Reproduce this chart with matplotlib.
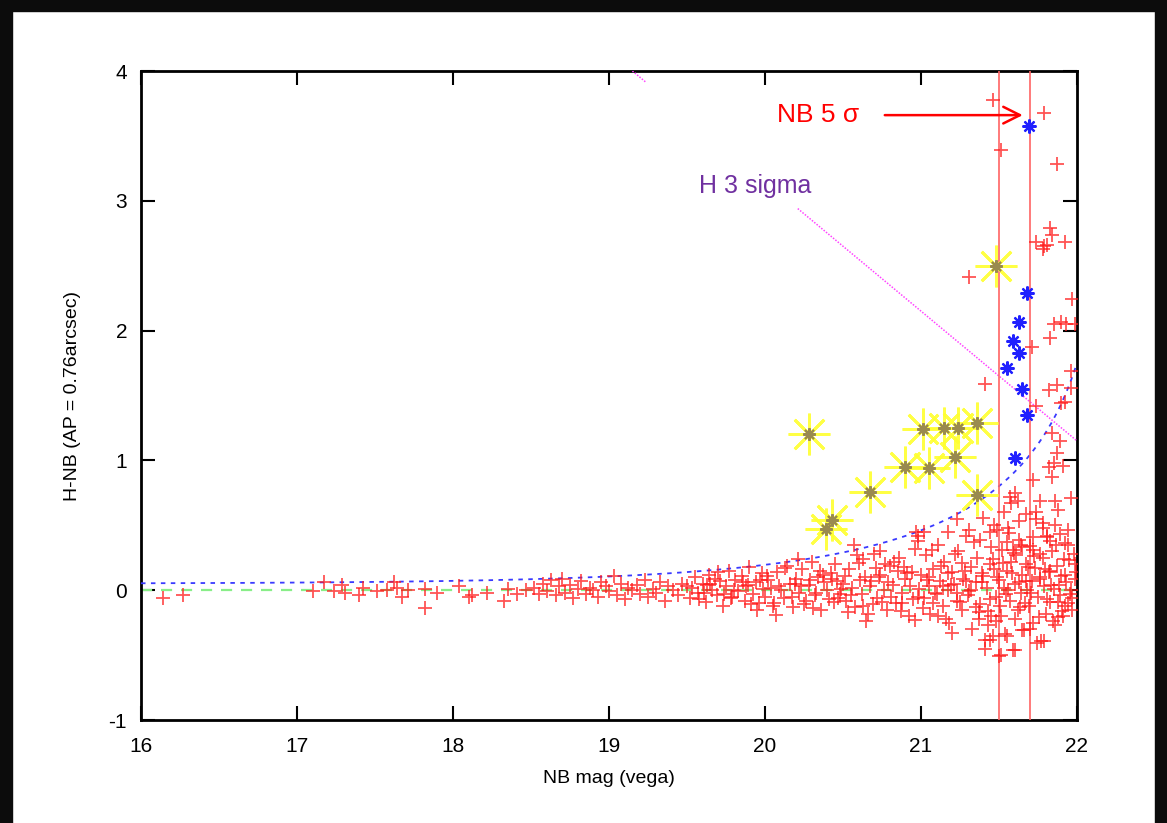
import numpy as np
import matplotlib
matplotlib.use("Agg")
import matplotlib.pyplot as plt
from matplotlib.patches import Rectangle

plt.rcParams['font.family'] = ['Liberation Sans', 'DejaVu Sans']
plt.rcParams['axes.unicode_minus'] = False

# ---------------- data ----------------
# bright / faint field objects (red +)
red_x = [
    16.14, 16.27, 17.10, 17.17, 17.24, 17.29, 17.31, 17.40, 17.42, 17.51, 17.58, 17.62, 17.64, 17.67, 17.71,
    17.82, 17.82, 17.90, 18.04, 18.10, 18.12, 18.22, 18.33, 18.35, 18.41, 18.47,
    18.52, 18.55, 18.58, 18.60, 18.63, 18.66, 18.68, 18.70, 18.72, 18.75, 18.77, 18.80, 18.82, 18.85, 18.88,
    18.90, 18.93, 18.95, 18.98, 19.00, 19.03, 19.05, 19.08, 19.10, 19.12, 19.15, 19.18, 19.20, 19.23, 19.25,
    19.28, 19.30, 19.33, 19.36, 19.38, 19.41, 19.44, 19.47,
    19.50, 19.52, 19.55, 19.57, 19.60, 19.62, 19.64, 19.66, 19.69, 19.71, 19.73, 19.75, 19.77, 19.79, 19.81,
    19.83, 19.85, 19.87, 19.89, 19.90, 19.92, 19.94, 19.96, 19.98, 19.99, 19.53, 19.58, 19.63, 19.68, 19.74,
    19.80, 19.86, 19.91, 19.97, 19.61, 19.70, 19.78, 19.88, 19.95, 19.65,
    20.00, 20.02, 20.04, 20.06, 20.08, 20.10, 20.12, 20.14, 20.16, 20.18, 20.20, 20.22, 20.24, 20.26, 20.28,
    20.30, 20.32, 20.34, 20.36, 20.38, 20.40, 20.42, 20.44, 20.46, 20.48, 20.01, 20.05, 20.09, 20.13, 20.17,
    20.21, 20.25, 20.29, 20.33, 20.37, 20.41, 20.45, 20.49, 20.07, 20.19, 20.31, 20.43, 20.23, 20.35, 20.47,
    20.50, 20.52, 20.54, 20.56, 20.58, 20.60, 20.62, 20.64, 20.66, 20.68, 20.70, 20.72, 20.74, 20.76, 20.78,
    20.80, 20.82, 20.84, 20.86, 20.88, 20.90, 20.92, 20.94, 20.96, 20.98, 20.51, 20.55, 20.59, 20.63, 20.67,
    20.71, 20.75, 20.79, 20.83, 20.87, 20.91, 20.95, 20.99, 20.53, 20.61, 20.69, 20.77, 20.85, 20.93, 20.57,
    20.65, 20.73, 20.81, 20.89, 20.97, 20.96, 20.98, 20.74, 20.88, 20.63,
    21.00, 21.02, 21.03, 21.05, 21.06, 21.08, 21.09, 21.11, 21.12, 21.14, 21.15, 21.17, 21.18, 21.20, 21.21,
    21.23, 21.24, 21.26, 21.27, 21.29, 21.30, 21.32, 21.33, 21.35, 21.36, 21.38, 21.39, 21.41, 21.42, 21.44,
    21.45, 21.47, 21.48, 21.49, 21.01, 21.04, 21.07, 21.10, 21.13, 21.16, 21.19, 21.22, 21.25, 21.28, 21.31,
    21.34, 21.37, 21.40, 21.43, 21.46, 21.02, 21.08, 21.14, 21.20, 21.26, 21.32, 21.38, 21.44, 21.47, 21.35,
    21.29, 21.23, 21.17, 21.11, 21.05, 21.41, 21.45, 21.48, 21.39, 21.43,
    21.50, 21.51, 21.52, 21.53, 21.54, 21.55, 21.56, 21.57, 21.58, 21.59, 21.60, 21.61, 21.62, 21.63, 21.64,
    21.65, 21.66, 21.67, 21.68, 21.69, 21.70, 21.71, 21.72, 21.73, 21.74, 21.75, 21.76, 21.77, 21.78, 21.79,
    21.80, 21.81, 21.82, 21.83, 21.84, 21.85, 21.86, 21.87, 21.88, 21.89, 21.90, 21.91, 21.92, 21.93, 21.94,
    21.95, 21.96, 21.97, 21.98, 21.99,
    21.505, 21.525, 21.545, 21.565, 21.585, 21.605, 21.625, 21.645, 21.665, 21.685, 21.705, 21.725, 21.745,
    21.765, 21.785, 21.805, 21.825, 21.845, 21.865, 21.885, 21.905, 21.925, 21.945, 21.965, 21.985, 21.515,
    21.555, 21.595, 21.635, 21.675, 21.715, 21.755, 21.795, 21.835, 21.875, 21.915, 21.955, 21.995,
    # faint, scattered outliers
    21.44, 21.46, 21.50, 21.55, 21.60, 21.79, 21.65, 21.70, 21.37, 21.88, 21.92,
    21.17, 21.31, 21.40, 21.44, 21.49, 21.86, 21.78, 21.89, 21.81, 21.55, 21.64, 21.94, 21.83, 21.59, 21.72,
    21.76, 21.23, 20.98, 21.53, 21.67, 21.74, 21.63, 21.60, 21.57, 21.58, 21.62, 21.76, 21.86, 21.96,
    21.84, 21.72, 21.82, 21.85, 21.91, 21.87, 21.89, 21.84, 21.74, 21.90, 21.92, 21.82, 21.87, 21.41,
    21.96, 21.71, 21.83, 21.85, 21.90, 21.93, 21.99, 21.96, 21.97, 21.31, 21.92, 21.78, 21.74, 21.81,
    21.79, 21.84, 21.83, 21.87, 21.51, 21.79, 21.46,
]
red_y = [
    -0.06, -0.04, -0.01, 0.06, -0.01, 0.04, -0.02, -0.04, 0.02, -0.01, 0.00, 0.06, 0.02, -0.05, 0.00,
    0.01, -0.14, -0.02, 0.03, -0.05, -0.04, -0.02, -0.08, 0.01, -0.03, 0.00,
    0.02, -0.03, 0.05, -0.01, 0.08, -0.04, 0.03, 0.09, -0.02, 0.04, -0.06, 0.01, 0.07, -0.03, 0.02,
    0.00, -0.05, 0.06, 0.03, -0.01, 0.11, -0.04, 0.05, -0.07, 0.02, 0.00, 0.04, -0.03, 0.08, -0.05,
    0.01, -0.02, 0.06, -0.08, 0.03, 0.00, -0.04, 0.05,
    0.03, -0.06, 0.10, -0.02, 0.05, -0.09, 0.12, 0.00, -0.04, 0.07, -0.12, 0.03, 0.15, -0.05, 0.08,
    -0.01, 0.11, -0.08, 0.04, 0.18, -0.03, 0.06, -0.10, 0.13, 0.01, 0.02, -0.07, 0.04, 0.09, -0.03,
    0.00, 0.06, -0.11, 0.08, -0.02, 0.14, -0.06, 0.03, -0.15, 0.05,
    -0.05, 0.08, 0.02, -0.10, 0.14, 0.00, -0.06, 0.19, 0.05, -0.13, 0.09, -0.02, 0.16, -0.08, 0.04,
    0.22, -0.04, 0.10, -0.15, 0.06, 0.00, 0.13, -0.09, 0.07, -0.03, 0.11, -0.12, 0.03, 0.17, -0.05,
    0.24, -0.11, 0.08, -0.02, 0.12, -0.07, 0.20, 0.01, -0.19, 0.05, -0.14, 0.09, 0.03, 0.15, -0.06,
    0.05, -0.08, 0.16, 0.02, -0.13, 0.21, -0.03, 0.10, -0.18, 0.07, 0.28, -0.06, 0.12, 0.00, -0.15,
    0.19, 0.04, -0.10, 0.25, -0.02, 0.09, -0.20, 0.14, 0.32, -0.05, 0.11, -0.04, 0.27, -0.12, 0.03,
    0.17, -0.09, 0.06, 0.22, -0.16, 0.13, -0.07, 0.01, -0.17, 0.08, -0.11, 0.20, 0.15, 0.03, 0.35,
    -0.24, 0.10, -0.05, 0.18, 0.45, -0.23, 0.38, 0.30, -0.10, 0.24,
    0.12, -0.06, 0.27, 0.03, -0.18, 0.16, -0.02, 0.35, 0.07, -0.12, 0.22, 0.00, -0.25, 0.14, 0.05,
    -0.08, 0.30, -0.15, 0.09, 0.42, -0.04, 0.18, -0.30, 0.06, 0.25, -0.11, 0.13, -0.38, 0.02, 0.20,
    -0.20, 0.50, -0.05, 0.10, -0.14, 0.08, 0.31, -0.03, 0.19, -0.22, 0.04, 0.28, -0.09, 0.15, -0.01,
    0.37, -0.17, 0.11, -0.27, 0.24, 0.45, -0.10, 0.03, -0.33, 0.21, 0.00, 0.39, -0.07, 0.16, -0.13,
    0.07, -0.02, 0.13, -0.20, 0.10, -0.45, 0.33, -0.24, 0.06, -0.16,
    0.08, -0.20, 0.31, 0.02, -0.34, 0.15, 0.48, -0.08, 0.22, -0.46, 0.05, 0.27, -0.15, 0.39, -0.02,
    0.12, -0.31, 0.20, 0.00, -0.12, 0.34, 0.07, -0.25, 0.17, 0.55, -0.05, 0.10, -0.39, 0.25, 0.03,
    -0.18, 0.42, 0.14, -0.09, 0.30, 0.01, -0.27, 0.19, 0.62, -0.04, 0.11, -0.20, 0.36, 0.06, -0.10,
    0.23, 0.00, -0.15, 0.28, 0.09,
    -0.12, 0.21, -0.03, 0.44, 0.13, -0.22, 0.06, 0.33, -0.10, 0.18, -0.02, 0.26, -0.41, 0.09, 0.52,
    -0.07, 0.15, -0.24, 0.35, 0.04, -0.16, 0.12, 0.46, -0.06, 0.20, -0.50, 0.00, 0.29, -0.13, 0.07,
    0.41, -0.21, 0.16, 0.04, -0.09, 0.24, -0.03, 0.14,
    -0.38, -0.35, -0.51, -0.35, -0.46, -0.39, -0.31, -0.30, -0.22, -0.21, -0.12,
    0.45, 0.46, 0.56, 0.45, 0.46, 0.50, 0.48, 0.43, 0.41, 0.37, 0.35, 0.35, 0.38, 0.31, 0.31,
    0.28, 0.55, 0.42, 0.60, 0.59, 0.60, 0.53, 0.75, 0.72, 0.67, 0.69, 0.69, 0.69, 0.71,
    0.87, 0.85, 0.95, 0.98, 0.96, 1.06, 1.15, 1.21, 1.42, 1.44, 1.45, 1.54, 1.58, 1.59,
    1.56, 1.87, 1.94, 2.05, 2.07, 2.05, 2.05, 1.69, 2.24, 2.41, 2.68, 2.63, 2.68, 2.66,
    2.65, 2.74, 2.79, 3.28, 3.39, 3.68, 3.78,
]

# NB-excess candidates (yellow asterisks)
cand_x = [20.28, 20.39, 20.43, 20.67, 20.90, 21.01, 21.05, 21.15, 21.22, 21.24, 21.36, 21.36, 21.48]
cand_y = [1.20, 0.47, 0.54, 0.76, 0.95, 1.24, 0.94, 1.25, 1.03, 1.25, 1.29, 0.73, 2.50]

# faint NB-excess objects (blue asterisks)
faint_x = [21.69, 21.68, 21.63, 21.59, 21.63, 21.55, 21.65, 21.68, 21.60]
faint_y = [3.58, 2.29, 2.07, 1.92, 1.83, 1.71, 1.55, 1.35, 1.02]

# limits
nb_5sigma = [21.5, 21.7]
h_3sigma_mag = 23.15      # H-NB = H_lim - NB
curve_offset = 0.05
curve_mlim = 22.254

xticks = [16, 17, 18, 19, 20, 21, 22]
yticks = [-1, 0, 1, 2, 3, 4]

# ---------------- figure ----------------
W, H = 1167, 823
fig = plt.figure(figsize=(W / 100, H / 100), dpi=100)
fig.patch.set_facecolor('white')
# black slide border
fig.patches.append(Rectangle((0, 1 - 11 / H), 1, 11 / H, transform=fig.transFigure,
                             color='#0c0c0c', zorder=0))
fig.patches.append(Rectangle((0, 0), 12 / W, 1, transform=fig.transFigure,
                             color='#0c0c0c', zorder=0))
fig.patches.append(Rectangle((1 - 12 / W, 0), 12 / W, 1, transform=fig.transFigure,
                             color='#0c0c0c', zorder=0))

ax = fig.add_axes([141 / W, 1 - 720 / H, (1077 - 141) / W, (720 - 71) / H])
ax.set_xlim(16, 22)
ax.set_ylim(-1, 4)

# zero line
ax.plot([16, 22], [0, 0], color='#88ee88', lw=1.6, ls=(0, (5, 4)), zorder=2)

# 3 sigma NB excess curve
xc = np.linspace(16, 21.999, 400)
yc = curve_offset - 2.5 * np.log10(1 - 10 ** (0.4 * (xc - curve_mlim)))
ax.plot(xc, yc, color='#3a3aff', lw=1.3, ls=(0, (2.5, 3)), zorder=3)

# H 3 sigma line (partly hidden behind labels)
xs1 = np.array([h_3sigma_mag - 4.0, 19.24])
xs2 = np.array([20.21, 22.0])
for xs in (xs1, xs2):
    ax.plot(xs, h_3sigma_mag - xs, color='#ff44ff', lw=1.1, ls=(0, (1, 1)), zorder=3)

# NB 5 sigma verticals
for xv in nb_5sigma:
    ax.axvline(xv, color='#ff6464', lw=1.2, zorder=3)

# points
ax.plot(red_x, red_y, ls='none', marker='+', color='#ff1a1a', alpha=0.75,
        ms=10, mew=1.3, zorder=4)
ax.plot(cand_x, cand_y, ls='none', marker=(8, 2, 0), color='#ffff30', alpha=0.9,
        ms=30, mew=2.0, zorder=5)
ax.plot(cand_x, cand_y, ls='none', marker=(8, 2, 0), color='#9a8a50',
        ms=9, mew=1.5, zorder=6)
ax.plot(faint_x, faint_y, ls='none', marker=(8, 2, 0), color='#2020ff',
        ms=10, mew=1.6, zorder=6)

# annotations
ax.text(20.08, 3.66, 'NB 5 σ', color='#ff0000', fontsize=19, va='center', ha='left')
ax.annotate('', xy=(21.67, 3.66), xytext=(20.75, 3.66),
            arrowprops=dict(arrowstyle='->', color='#ff0000', lw=1.8,
                            mutation_scale=30))
ax.text(19.58, 3.115, 'H 3 sigma', color='#7030a0', fontsize=18, va='center', ha='left')

# axes styling (gnuplot-like mirrored inward ticks)
for s in ax.spines.values():
    s.set_linewidth(2.0)
ax.set_xticks(xticks)
ax.set_yticks(yticks)
ax.tick_params(direction='in', length=10, width=1.5, top=True, right=True,
               labelsize=15)
ax.tick_params(axis='x', pad=12)
ax.tick_params(axis='y', pad=10)
ax.set_xlabel('NB mag (vega)', fontsize=14, labelpad=10)
ax.set_ylabel('H-NB (AP = 0.76arcsec)', fontsize=14, labelpad=20)

fig.savefig('out.png', dpi=100)
